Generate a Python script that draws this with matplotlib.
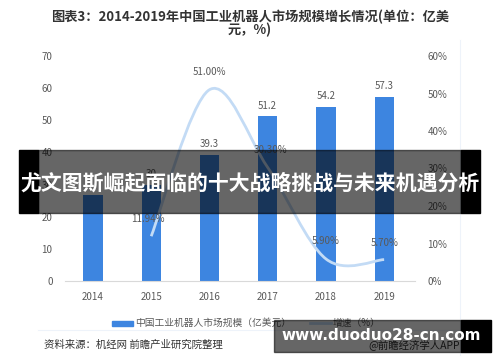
import matplotlib
matplotlib.use('Agg')
import matplotlib.pyplot as plt
import numpy as np
from matplotlib.path import Path
from matplotlib.patches import PathPatch, Rectangle

plt.rcParams['font.family'] = ['Noto Sans CJK SC', 'DejaVu Sans']

# data
years = ['2014', '2015', '2016', '2017', '2018', '2019']
market = [26.8, 30.0, 39.3, 51.2, 54.2, 57.3]
market_labels = ['', '30', '39.3', '51.2', '54.2', '57.3']
growth_years = [1, 2, 3, 4, 5]
growth = [11.94, 51.00, 30.30, 5.90, 5.70]
growth_labels = ['11.94%', '51.00%', '30.30%', '5.90%', '5.70%']

bar_color = '#3D85E0'
line_color = '#C3DBF5'
txt = '#595959'

fig = plt.figure(figsize=(5, 3.62), dpi=100)
W, H = 500, 362

def fx(px):
    return px / W

def fy(py):
    return 1 - py / H

ax = fig.add_axes([fx(65), fy(281), fx(415) - fx(65), fy(56) - fy(281)])
x = np.arange(len(years))
ax.bar(x, market, width=0.33, color=bar_color, zorder=2)
ax.set_xlim(-0.48, 5.53)
ax.set_ylim(0, 70)
ax.set_yticks(range(0, 71, 10))
ax.set_xticks(x)
ax.set_xticklabels(years)
for s in ['top', 'right', 'left']:
    ax.spines[s].set_visible(False)
ax.spines['bottom'].set_color('#D9D9D9')
ax.tick_params(axis='both', length=0, labelsize=7, colors=txt)
ax.tick_params(axis='x', pad=8)
ax.tick_params(axis='y', pad=9)
for xi, v, lab in zip(x, market, market_labels):
    if lab:
        ax.text(xi, v + 1.8, lab, ha='center', va='bottom', fontsize=7, color=txt)

ax2 = ax.twinx()
ax2.set_ylim(0, 60)
ax2.set_yticks(range(0, 61, 10))
ax2.set_yticklabels([f'{v}%' for v in range(0, 61, 10)])
for s in ['top', 'right', 'left', 'bottom']:
    ax2.spines[s].set_visible(False)
ax2.tick_params(axis='y', length=0, labelsize=7, colors=txt, pad=9)

# smooth line drawn as bezier path through data points
gx = np.array(growth_years, dtype=float)
gy = np.array(growth, dtype=float)
verts = [(gx[0], gy[0])]
codes = [Path.MOVETO]
n = len(gx)
for i in range(n - 1):
    p0 = np.array([gx[max(i - 1, 0)], gy[max(i - 1, 0)]])
    p1 = np.array([gx[i], gy[i]])
    p2 = np.array([gx[i + 1], gy[i + 1]])
    p3 = np.array([gx[min(i + 2, n - 1)], gy[min(i + 2, n - 1)]])
    c1 = p1 + (p2 - p0) / 6
    c2 = p2 - (p3 - p1) / 6
    verts += [tuple(c1), tuple(c2), tuple(p2)]
    codes += [Path.CURVE4] * 3
ax2.add_patch(PathPatch(Path(verts, codes), facecolor='none', edgecolor=line_color, lw=2, zorder=3))

offs = [(-0.05, 3.2), (0, 3.5), (0.05, 3.2), (0, 3.5), (0, 3.0)]
for xi, v, lab, o in zip(growth_years, growth, growth_labels, offs):
    ax2.text(xi + o[0], v + o[1], lab, ha='center', va='bottom', fontsize=7, color=txt, zorder=4)

# legend
fig.patches.append(Rectangle((fx(112), fy(326)), fx(21), 5 / H, transform=fig.transFigure,
                             color=bar_color))
fig.text(fx(135), fy(323), '中国工业机器人市场规模（亿美元）', fontsize=7, color=txt, va='center')
fig.lines.append(plt.Line2D([fx(310), fx(331)], [fy(323), fy(323)], transform=fig.transFigure,
                            color=line_color, lw=2))
fig.text(fx(333), fy(323), '增速（%）', fontsize=7, color=txt, va='center')

# frame lines
fig.lines.append(plt.Line2D([fx(38), fx(460)], [fy(330), fy(330)], transform=fig.transFigure,
                            color='#EEF3FA', lw=0.8))
fig.lines.append(plt.Line2D([fx(460), fx(460)], [fy(40), fy(355)], transform=fig.transFigure,
                            color='#EEF3FA', lw=0.8))

# title and source
fig.text(0.5, fy(17), '图表3：2014-2019年中国工业机器人市场规模增长情况(单位：亿美',
         ha='center', va='center', fontsize=9.5, fontweight='bold', color='#333333')
fig.text(0.5, fy(30), '元，%)', ha='center', va='center', fontsize=9.5, fontweight='bold',
         color='#333333')
fig.text(fx(44), fy(345), '资料来源：机经网 前瞻产业研究院整理', fontsize=7.5, color='#333333',
         va='center')
fig.text(fx(368), fy(345), '@前瞻经济学人APP', fontsize=7.5, color='#333333', va='center')

# overlay banner
fig.patches.append(Rectangle((fx(38), fy(213)), fx(461) - fx(38), (213 - 150) / H,
                             transform=fig.transFigure, color='black', alpha=0.6, zorder=10))
for a, b in [(19, 38), (461, 480)]:
    fig.patches.append(Rectangle((fx(a), fy(213)), fx(b) - fx(a), (213 - 150) / H,
                                 transform=fig.transFigure, color='black', zorder=10))
fig.text(0.5, fy(183), '尤文图斯崛起面临的十大战略挑战与未来机遇分析', ha='center', va='center',
         fontsize=15, fontweight='bold', color='white', zorder=11)

# bottom watermark
fig.patches.append(Rectangle((fx(274), fy(352)), fx(461) - fx(274), 32 / H,
                             transform=fig.transFigure, color='black', alpha=0.6, zorder=10))
fig.patches.append(Rectangle((fx(461), fy(352)), fx(491) - fx(461), 32 / H,
                             transform=fig.transFigure, color='black', zorder=10))
fig.text(fx(381), fy(336), 'www.duoduo28-cn.com', ha='center', va='center', fontsize=11,
         fontweight='bold', color='white', zorder=11, family=['DejaVu Sans'])

fig.savefig('out.png', dpi=100)
